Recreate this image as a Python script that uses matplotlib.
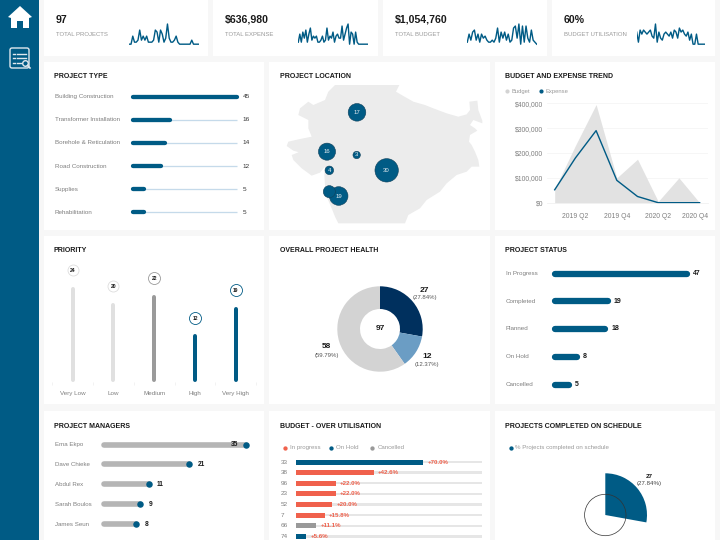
import matplotlib
matplotlib.use('Agg')
import matplotlib.pyplot as plt
import numpy as np
from matplotlib.patches import Rectangle, Polygon, FancyBboxPatch, Circle, Wedge
from matplotlib.transforms import ScaledTranslation

plt.rcParams['font.family'] = ['Liberation Sans', 'DejaVu Sans']

W, H = 720, 540
BLUE = '#005b85'
TEXT = '#1a1a1a'
GREY_TEXT = '#7f7f7f'
RED = '#f0614c'

# kpi row
kpi_values = ['97', '$636,980', '$1,054,760', '60%']
kpi_labels = ['TOTAL PROJECTS', 'TOTAL EXPENSE', 'TOTAL BUDGET', 'BUDGET UTILISATION']
spark_projects = [0, 0, 4, 1, 1, 2, 7, 2, 4, 2, 4, 1, 1, 1, 2, 7, 6, 1, 7, 5, 1, 3, 10, 3, 1, 1, 2, 4, 1, 0, 0, 0, 0, 0, 0, 0, 2, 0, 0, 0, 0]
spark_expense = [1, 5, 1, 6, 3, 7, 1, 5, 8, 2, 4, 3, 4, 1, 1, 2, 4, 1, 2, 8, 2, 4, 3, 6, 1, 4, 5, 3, 3, 9, 2, 5, 8, 10, 0, 6, 5, 0, 6, 1, 0, 0, 0, 0, 0, 0, 0]
spark_budget = [1, 5, 2, 6, 7, 2, 5, 1, 5, 3, 4, 2, 1, 1, 2, 1, 3, 8, 1, 6, 3, 6, 2, 5, 1, 2, 8, 9, 3, 10, 0, 9, 1, 9, 3, 1, 7, 2, 1, 0]
spark_util = [6, 1, 7, 5, 7, 6, 5, 6, 7, 4, 3, 10, 1, 6, 3, 2, 5, 6, 5, 4, 6, 3, 7, 6, 3, 8, 6, 7, 5, 4, 6, 2, 5, 0, 0, 5, 0, 0, 0, 0, 0]
kpi_sparks = [spark_projects, spark_expense, spark_budget, spark_util]

# row 1
type_names = ['Building Construction', 'Transformer Installation', 'Borehole & Reticulation', 'Road Construction', 'Supplies', 'Rehabilitation']
type_values = [45, 16, 14, 12, 5, 5]

map_x = [195, 388, 378, 400, 430, 465, 490, 530, 565, 590, 600, 598, 622, 625, 637, 637, 610, 600, 615, 622, 600, 597, 605, 615, 625, 628, 605, 590, 560, 530, 510, 470, 450, 415, 405, 205, 195, 185, 170, 165, 163, 165, 150, 125, 95, 70, 65, 90, 120, 105, 70, 50, 55, 90, 125, 115, 115, 85, 90, 115, 130, 165, 175]
map_y = [75, 75, 95, 108, 125, 135, 145, 160, 170, 163, 150, 125, 122, 150, 182, 190, 180, 195, 205, 212, 225, 245, 255, 275, 300, 320, 320, 335, 345, 370, 395, 420, 445, 465, 490, 490, 470, 445, 410, 375, 345, 320, 338, 347, 325, 300, 285, 275, 270, 282, 272, 258, 245, 237, 230, 205, 180, 165, 145, 125, 135, 120, 95]
site_x = [261, 171, 260, 178, 206, 350, 178]
site_y = [157, 275, 285, 331, 408, 331, 395]
site_counts = [17, 16, 3, 4, 19, 30, 8]
site_labels = ['17', '16', '3', '4', '19', '30', '']

quarters = ['2019 Q1', '2019 Q2', '2019 Q3', '2019 Q4', '2020 Q1', '2020 Q2', '2020 Q3', '2020 Q4']
budget_trend = [55000, 230000, 395000, 100000, 175000, 5000, 100000, 0]
expense_trend = [52000, 180000, 290000, 90000, 25000, 0, 0, 0]

# row 2
priority_names = ['Very Low', 'Low', 'Medium', 'High', 'Very High']
priority_values = [24, 20, 22, 12, 19]
priority_colors = ['#e0e0e0', '#e0e0e0', '#9a9a9a', BLUE, BLUE]

health_values = [27, 12, 58]
health_colors = ['#00305e', '#6b9dc4', '#d3d3d3']

status_names = ['In Progress', 'Completed', 'Planned', 'On Hold', 'Cancelled']
status_values = [47, 19, 18, 8, 5]

# row 3
manager_names = ['Ema Ekpo', 'Dave Chieke', 'Abdul Rex', 'Sarah Boulos', 'James Seun']
manager_values = [35, 21, 11, 9, 8]

over_ids = ['33', '38', '96', '23', '52', '7', '66', '74']
over_values = [70.0, 42.6, 22.0, 22.0, 20.0, 15.8, 11.1, 5.6]
over_status = ['On Hold', 'In progress', 'In progress', 'In progress', 'In progress', 'In progress', 'Cancelled', 'On Hold']
status_colors = {'In progress': RED, 'On Hold': BLUE, 'Cancelled': '#999999'}

schedule_pct = 27.84


def px_axes(fig, x0, y0, x1, y1):
    # pixel box, y measured from the top of the picture
    ax = fig.add_axes([x0 / W, 1 - y1 / H, (x1 - x0) / W, (y1 - y0) / H])
    ax.patch.set_alpha(0)
    return ax


def hide(ax):
    ax.set_xticks([])
    ax.set_yticks([])
    for s in ax.spines.values():
        s.set_visible(False)


def lw(px):
    return px * 72 / 100


fig = plt.figure(figsize=(7.2, 5.4), dpi=100, facecolor='#f7f7f7')
bg = fig.add_axes([0, 0, 1, 1])
bg.set_xlim(0, W)
bg.set_ylim(H, 0)
bg.axis('off')

bg.add_patch(Rectangle((0, 0), 39, H, color=BLUE, lw=0))

# home icon
bg.add_patch(Polygon([(20, 6), (32, 17), (29, 18), (29, 28), (23, 28), (23, 21), (17, 21), (17, 28), (11, 28), (11, 18), (8, 17)], color='white', lw=0))
# report icon
bg.add_patch(FancyBboxPatch((10, 48), 19, 20, boxstyle='round,pad=0,rounding_size=2', fc='none', ec='#dfe8ee', lw=1))
for yy in [53.5, 58, 62.5]:
    bg.plot([12.5, 14.5], [yy, yy], color='#dfe8ee', lw=1)
    bg.plot([16.5, 26 if yy < 60 else 21], [yy, yy], color='#dfe8ee', lw=1)
bg.add_patch(Circle((25.5, 63.5), 2.8, fc=BLUE, ec='#dfe8ee', lw=1))
bg.plot([27.5, 30], [65.5, 68], color='#dfe8ee', lw=1.2)

kpi_boxes = [(44, 208), (213, 378), (383, 547), (552, 715)]
for (x0, x1) in kpi_boxes:
    bg.add_patch(Rectangle((x0, 0), x1 - x0, 56, color='white', lw=0))

row_boxes = [(62, 230), (236, 404), (411, 540)]
col_boxes = [(44, 264), (269, 490), (495, 715)]
for (y0, y1) in row_boxes:
    for (x0, x1) in col_boxes:
        bg.add_patch(Rectangle((x0, y0), x1 - x0, y1 - y0, color='white', lw=0))

titles = [
    (54, 76, 'PROJECT TYPE'), (280, 76, 'PROJECT LOCATION'), (505, 76, 'BUDGET AND EXPENSE TREND'),
    (54, 251, 'PRIORITY'), (280, 251, 'OVERALL PROJECT HEALTH'), (505, 251, 'PROJECT STATUS'),
    (54, 426, 'PROJECT MANAGERS'), (280, 426, 'BUDGET - OVER UTILISATION'), (505, 426, 'PROJECTS COMPLETED ON SCHEDULE'),
]
for x, y, t in titles:
    bg.text(x, y, t, fontsize=5.0, fontweight='bold', color=TEXT, va='center', ha='left')

# kpis
spark_boxes = [(129.3, 198.7), (298.3, 367.7), (467.3, 536.7), (636.7, 705)]
for i in range(4):
    x0 = kpi_boxes[i][0] + 12
    bg.text(x0, 20, kpi_values[i], fontsize=7.6, fontweight='bold', color=TEXT, va='center')
    bg.text(x0, 35, kpi_labels[i], fontsize=4.3, color='#999999', va='center')
    sx0, sx1 = spark_boxes[i]
    ax = px_axes(fig, sx0, 22, sx1, 46)
    ax.plot(np.arange(len(kpi_sparks[i])), kpi_sparks[i], color=BLUE, lw=lw(1.4))
    ax.set_xlim(0, len(kpi_sparks[i]) - 1)
    ax.set_ylim(-0.9, 11)
    hide(ax)

# project type
ax = px_axes(fig, 130, 85.1, 250, 223.9)
ax.set_xlim(-1.16, 50.6)
ax.set_ylim(len(type_names) - 0.5, -0.5)
hide(ax)
for i, (name, v) in enumerate(zip(type_names, type_values)):
    ax.plot([-0.9, 45], [i, i], color='#c5daea', lw=lw(1.3), solid_capstyle='butt')
    ax.plot([0, v], [i, i], color=BLUE, lw=lw(4.3), solid_capstyle='round', clip_on=False)
    ax.text(47.3, i, str(v), fontsize=4.6, color='#333333', va='center', ha='left')
    ax.text(-33.7, i, name, fontsize=4.5, color=GREY_TEXT, va='center', ha='left', clip_on=False)

# map
ax = px_axes(fig, 270, 60, 495, 230)
ax.set_xlim(0, 675)
ax.set_ylim(510, 0)
hide(ax)
ax.fill(map_x, map_y, color='#ececec', lw=0)
for x, y, c, lab in zip(site_x, site_y, site_counts, site_labels):
    r = np.sqrt(c * 4.56) * 3
    ax.add_patch(Circle((x, y), r, fc=BLUE, ec='#10405a', lw=0.4))
    if lab:
        ax.text(x, y, lab, fontsize=4.3, color='#e8eef2', ha='center', va='center')

# trend
ax = px_axes(fig, 546.7, 103.3, 707.7, 202.7)
xs = np.arange(len(quarters))
ax.fill_between(xs, budget_trend, 0, color='#e2e2e2', lw=0)
ax.plot(xs, expense_trend, color=BLUE, lw=lw(1.4), clip_on=False)
ax.set_xlim(-0.386, 7.39)
ax.set_ylim(0, 400000)
ax.set_yticks([0, 100000, 200000, 300000, 400000], ['$0', '$100,000', '$200,000', '$300,000', '$400,000'])
ax.set_xticks(xs[1::2], quarters[1::2])
ax.tick_params(length=0, labelsize=4.9, labelcolor=GREY_TEXT, pad=2.5)
ax.tick_params(axis='x', pad=7.5)
ax.grid(axis='y', color='#f3f3f3', lw=0.5)
ax.set_axisbelow(True)
for s in ['top', 'right', 'left']:
    ax.spines[s].set_visible(False)
ax.spines['bottom'].set_color('#eeeeee')
ax.spines['bottom'].set_linewidth(0.5)
last = ax.get_xticklabels()[-1]
last.set_transform(last.get_transform() + ScaledTranslation(-5 / 100, 0, fig.dpi_scale_trans))
bg.plot([507], [91], 'o', ms=2, color='#d3d3d3')
bg.text(511.5, 91, 'Budget', fontsize=4.2, color='#999999', va='center')
bg.plot([540.5], [91], 'o', ms=2, color=BLUE)
bg.text(545, 91, 'Expense', fontsize=4.2, color='#999999', va='center')

# priority
ax = px_axes(fig, 52.2, 255, 256.2, 382)
ax.set_xlim(-0.5, 4.5)
ax.set_ylim(0, 127 / 3.97)
xs = np.arange(len(priority_names))
for x, v, col in zip(xs, priority_values, priority_colors):
    ax.plot([x, x], [0.5, v - 0.5], color=col, lw=lw(4), solid_capstyle='round')
    px_r = 5.5 if col == '#e0e0e0' else 6
    edge = col if col != '#e0e0e0' else '#dddddd'
    ax.plot([x], [v + 4.1], 'o', ms=2 * px_r * 0.72, mfc='white', mec=edge, mew=0.6, clip_on=False)
    ax.text(x, v + 4.1, str(v), fontsize=3.6, fontweight='bold', color=TEXT, ha='center', va='center')
ax.set_xticks(xs, priority_names)
ax.set_xticks(np.arange(-0.5, 5), minor=True)
ax.tick_params(axis='x', which='major', length=0, labelsize=4.5, labelcolor=GREY_TEXT, pad=6.5)
ax.tick_params(axis='x', which='minor', length=2, width=0.4, color='#e8e8e8', direction='out')
ax.set_yticks([])
for s in ax.spines.values():
    s.set_visible(False)

# health donut
ax = px_axes(fig, 330, 279, 430, 379)
ax.pie(health_values, colors=health_colors, startangle=90, counterclock=False, radius=0.854,
       wedgeprops=dict(width=0.854 - 0.4), center=(0, 0))
ax.set_xlim(-1, 1)
ax.set_ylim(-1, 1)
bg.text(380, 329, '97', fontsize=6, fontweight='bold', color=TEXT, ha='center', va='center')
health_labels = [(424.5, 290, 27), (427.3, 356.7, 12), (326.7, 347, 58)]
for (x, y, v) in health_labels:
    pct = v / sum(health_values) * 100
    bg.text(x, y, str(v), fontsize=6, fontweight='bold', color=TEXT, ha='center', va='center')
    bg.text(x, y + 8, '(%.2f%%)' % pct, fontsize=4.3, color='#555555', ha='center', va='center')

# status
ax = px_axes(fig, 554.7, 262, 700, 396)
ax.set_xlim(0, (700 - 554.7) / 2.81)
ax.set_ylim(134, 0)
hide(ax)
status_y = [11.7, 39.3, 67, 95, 122.7]
for y, name, v in zip(status_y, status_names, status_values):
    ax.plot([0, v], [y, y], color=BLUE, lw=lw(6.3), solid_capstyle='round', clip_on=False)
    ax.text(v + 2.1, y, str(v), fontsize=5, fontweight='bold', color=TEXT, va='center', ha='left')
    ax.text(-17.4, y, name, fontsize=4.5, color=GREY_TEXT, va='center', ha='left', clip_on=False)

# managers
ax = px_axes(fig, 103.8, 435, 255, 534)
ax.set_xlim(0, 151.2 / 4.07)
ax.set_ylim(99, 0)
hide(ax)
manager_y = [9.7, 29.3, 49, 69, 89]
for y, name, v in zip(manager_y, manager_names, manager_values):
    ax.plot([0, v], [y, y], color='#b5b5b5', lw=lw(5.6), solid_capstyle='round', clip_on=False)
    ax.plot([v], [y], 'o', ms=lw(6.5), color=BLUE, mew=0, clip_on=False)
    if v == max(manager_values):
        ax.text(v - 1.9, y, str(v), fontsize=4.8, fontweight='bold', color=TEXT, va='center', ha='right')
    else:
        ax.text(v + 2, y, str(v), fontsize=4.8, fontweight='bold', color=TEXT, va='center', ha='left')
    ax.text(-12, y, name, fontsize=4.4, color=GREY_TEXT, va='center', ha='left', clip_on=False)

# over utilisation
ax = px_axes(fig, 296, 456.7, 482, 541.7)
ax.set_xlim(0, 186 / 1.82)
ax.set_ylim(7.5, -0.5)
hide(ax)
for i, (name, v, st) in enumerate(zip(over_ids, over_values, over_status)):
    ax.barh(i, 102, height=0.22, color='#e6e6e6', lw=0)
    ax.barh(i, v, height=0.47, color=status_colors[st], lw=0)
    ax.text(v + 2.2, i, '+%.1f%%' % v, fontsize=4.4, fontweight='bold', color=RED, va='center', ha='left')
    ax.text(-8.4, i, name, fontsize=4.6, color=GREY_TEXT, va='center', ha='left', clip_on=False)
legend_items = [(285, 'In progress'), (331.3, 'On Hold'), (372.3, 'Cancelled')]
for x, lab in legend_items:
    bg.plot([x], [447.7], 'o', ms=2.1, color=status_colors[lab])
    bg.text(x + 5, 447.7, lab, fontsize=4.4, color='#999999', va='center')

# on schedule
ax = px_axes(fig, 555, 465, 655.6, 540)
ax.set_xlim(555, 655.6)
ax.set_ylim(540, 465)
ax.set_aspect('equal')
hide(ax)
# y axis is flipped here, so the wedge angles run clockwise from 12 o'clock
ax.add_patch(Wedge((605.3, 515), 41.7, -90, -90 + schedule_pct * 3.6, color=BLUE, lw=0))
ax.add_patch(Circle((605.3, 515), 20.7, fc='none', ec='#333333', lw=0.5))
bg.plot([510.7], [447.7], 'o', ms=2.1, color=BLUE)
bg.text(515, 447.7, '% Projects completed on schedule', fontsize=4.4, color='#999999', va='center')
bg.text(649.3, 477, '27', fontsize=4.6, fontweight='bold', color=TEXT, ha='center', va='center')
bg.text(649.3, 484, '(%.2f%%)' % schedule_pct, fontsize=4.4, color='#444444', ha='center', va='center')

fig.savefig('out.png', dpi=100, facecolor=fig.get_facecolor())
